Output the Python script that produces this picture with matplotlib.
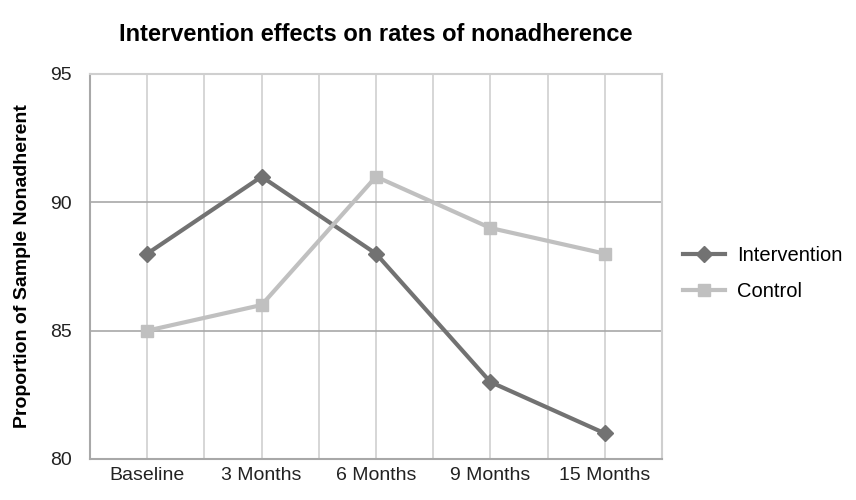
import matplotlib.pyplot as plt

months = ['Baseline', '3 Months', '6 Months', '9 Months', '15 Months']
intervention = [88, 91, 88, 83, 81]
control = [85, 86, 91, 89, 88]

plt.rcParams['font.family'] = ['Liberation Sans', 'DejaVu Sans']

fig = plt.figure(figsize=(8.56, 5), dpi=100)
ax = fig.add_axes([90/856, 1-459/500, (662-90)/856, (459-74)/500])

x = list(range(len(months)))
ax.plot(x, intervention, color='#727272', lw=3, marker='D', ms=8, label='Intervention', zorder=3)
ax.plot(x, control, color='#c0c0c0', lw=3, marker='s', ms=9, label='Control', zorder=3)

ax.set_xlim(-0.5, len(months) - 0.5)
ax.set_ylim(80, 95)
ax.set_yticks([80, 85, 90, 95])
ax.set_xticks(x)
ax.set_xticklabels(months)

# grid lines at category centres and boundaries
for v in [i * 0.5 - 0.5 for i in range(2 * len(months) + 1)]:
    ax.axvline(v, color='#cfcfcf', lw=1.2, zorder=1)
for h in [85, 90]:
    ax.axhline(h, color='#a8a8a8', lw=1.2, zorder=1)

for s in ['left', 'bottom']:
    ax.spines[s].set_color('#a8a8a8')
    ax.spines[s].set_linewidth(1.5)
for s in ['top', 'right']:
    ax.spines[s].set_color('#cfcfcf')
    ax.spines[s].set_linewidth(1.5)

ax.tick_params(length=0, labelsize=14, colors='#222222')
ax.tick_params(axis='y', pad=13)
ax.tick_params(axis='x', pad=6)

ax.set_ylabel('Proportion of Sample Nonadherent', fontsize=14, fontweight='bold', labelpad=14)
ax.set_title('Intervention effects on rates of nonadherence', fontsize=17, fontweight='bold', pad=24)

ax.legend(loc='center left', bbox_to_anchor=(683/856, 1-273.5/500), bbox_transform=fig.transFigure,
          frameon=False, fontsize=14.5, borderaxespad=0, borderpad=0,
          handlelength=2.1, handletextpad=0.6, labelspacing=0.85)

fig.savefig('out.png', dpi=100)
